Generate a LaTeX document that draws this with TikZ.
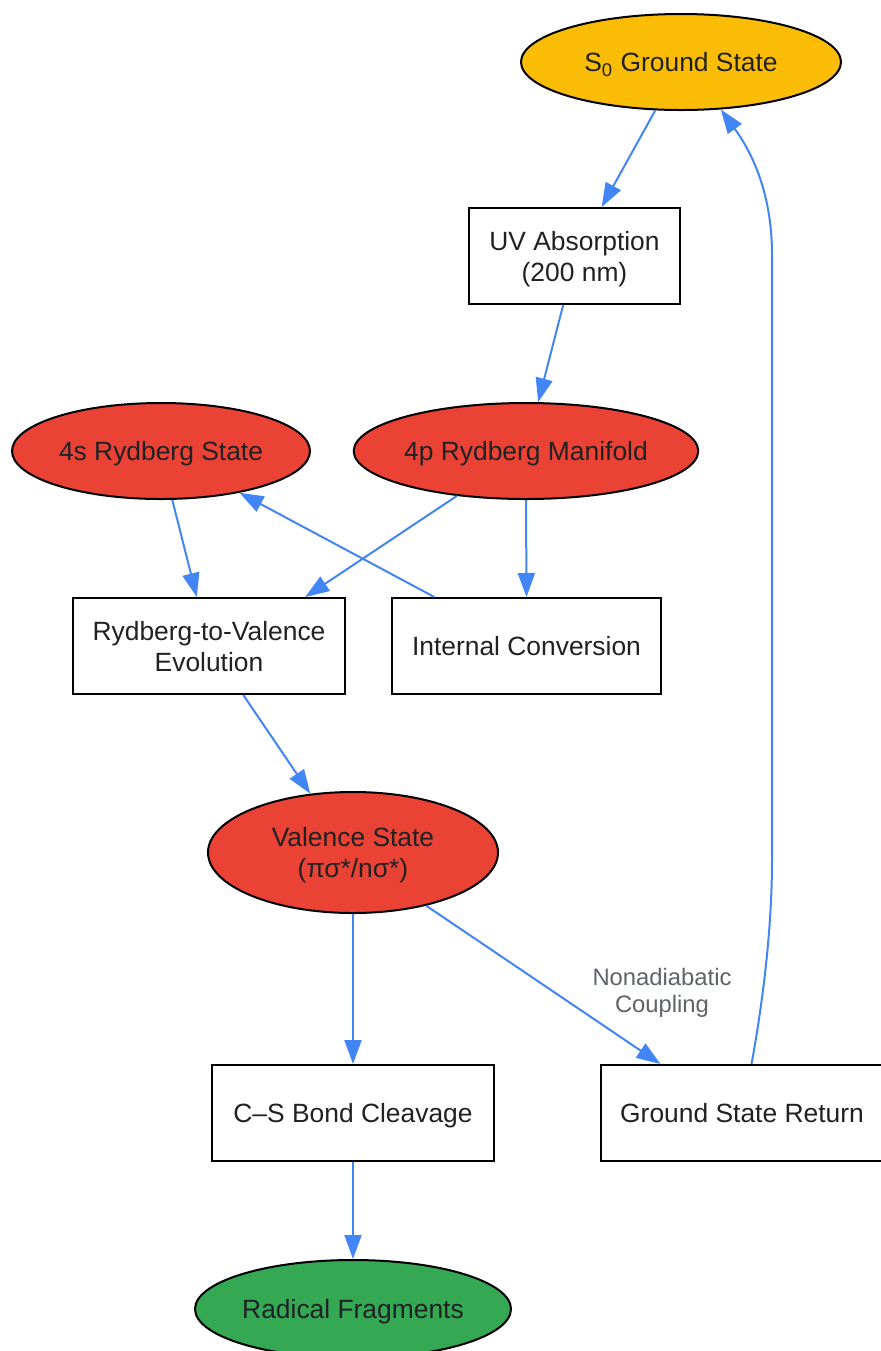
\documentclass[tikz,border=0pt]{standalone}
\usepackage{fontspec}
\setmainfont{Liberation Sans}
\usetikzlibrary{shapes.geometric,arrows.meta}
\definecolor{gyellow}{HTML}{FBBC05}
\definecolor{gred}{HTML}{EA4335}
\definecolor{ggreen}{HTML}{34A853}
\definecolor{gblue}{HTML}{4285F4}
\definecolor{txtdark}{HTML}{202124}
\definecolor{lblgray}{HTML}{5F6368}
\begin{document}
\begin{tikzpicture}[x=0.5pt,y=-0.5pt,
    every node/.style={font=\fontsize{13.2}{15.5}\selectfont, text=txtdark, align=center, text depth=0pt},
    state/.style={ellipse, draw=black, line width=1pt, inner sep=0pt, minimum height=48pt},
    proc/.style={rectangle, draw=black, line width=1pt, fill=white, inner sep=0pt, minimum height=48pt},
    flow/.style={draw=gblue, line width=1pt, -{Triangle[length=12pt,width=8.5pt]}},
    lbl/.style={font=\fontsize{11.9}{13.5}\selectfont, text=lblgray}]
  \useasboundingbox (0,0) rectangle (881,1351);
  % states and steps
  \node (s0) [state, fill=gyellow, minimum width=160pt] at (681,62) {S\textsubscript{0} Ground State};
  \node (uv) [proc, minimum width=105.5pt] at (574.5,256) {UV Absorption\\(200 nm)};
  \node (m4p) [state, fill=gred, minimum width=170.5pt] at (526,451) {4p Rydberg Manifold};
  \node (m4s) [state, fill=gred, minimum width=149pt] at (161,451) {4s Rydberg State};
  \node (rtv) [proc, minimum width=136pt] at (209,646) {Rydberg-to-Valence\\Evolution};
  \node (ic) [proc, minimum width=134.5pt] at (526.5,646) {Internal Conversion};
  \node (val) [state, fill=gred, minimum width=145pt, minimum height=60.5pt] at (353,852.5) {Valence State\\(πσ*/nσ*)};
  \node (cs) [proc, minimum width=141pt] at (353,1113) {C–S Bond Cleavage};
  \node (gsr) [proc, minimum width=141pt] at (742,1113) {Ground State Return};
  \node (rad) [state, fill=ggreen, minimum width=158pt, minimum height=49pt] at (353,1309) {Radical Fragments};
  \node (nac) [lbl] at (662,990) {Nonadiabatic\\Coupling};
  % transitions
  \draw[flow] (s0.-118) -- (uv.61);
  \draw[flow] (uv.-103) -- (m4p.76);
  \draw[flow] (m4p.south) -- (ic.north);
  \draw[flow] (m4p.-147) -- (rtv.27);
  \draw[flow] (m4s.-77) -- (rtv.104);
  \draw[flow] (ic.152) -- (m4s.-28);
  \draw[flow] (rtv.-55) -- (val.126);
  \draw[flow] (val.south) -- (cs.north);
  \draw[flow] (val.-36) -- (gsr.149);
  \draw[flow] (cs.south) -- (rad.north);
  \draw[flow] (gsr.79) .. controls (765,990) and (772,920) .. (772,860) -- (772,255)
    .. controls (772,190) and (750,150) .. (s0.-50);%back to ground state
\end{tikzpicture}
\end{document}
